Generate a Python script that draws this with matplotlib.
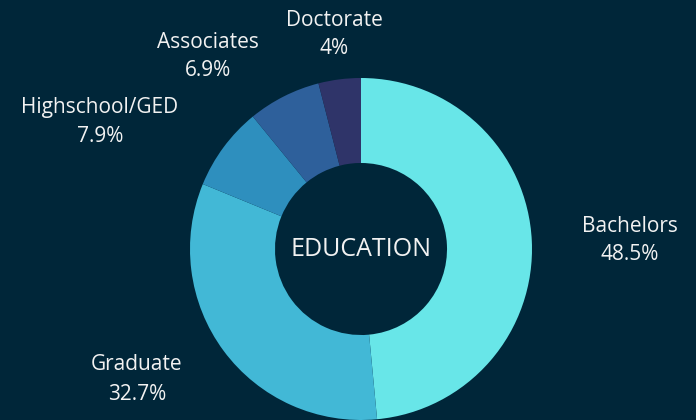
import matplotlib.pyplot as plt

# data
categories = ['Bachelors', 'Graduate', 'Highschool/GED', 'Associates', 'Doctorate']
shares = [48.5, 32.7, 7.9, 6.9, 4.0]
share_labels = ['48.5%', '32.7%', '7.9%', '6.9%', '4%']
colors = ['#68e6e8', '#42b8d6', '#2e8fbe', '#2e609b', '#2f3469']

bg = '#002639'
txt = '#f2f2f2'

fig = plt.figure(figsize=(6.96, 4.2), dpi=100, facecolor=bg)
ax = fig.add_axes([0, 0, 1, 1])
ax.set_facecolor(bg)

ax.pie(shares, colors=colors, startangle=90, counterclock=False, radius=1,
       wedgeprops=dict(width=0.497, linewidth=0))

# view: donut centre at pixel (361, 249), radius 171 px
R = 171.0
ax.set_xlim(-361 / R, (696 - 361) / R)
ax.set_ylim(-(420 - 249) / R, 249 / R)
ax.set_aspect('equal')
ax.axis('off')

# label anchors in pixels (x, y of the name line from top)
label_pos = [(630, 226), (137, 365), (100, 107), (208, 42), (334, 20)]
for name, pct, (px, py) in zip(categories, share_labels, label_pos):
    x = (px - 361) / R
    y = (249 - py) / R
    ax.text(x, y, name, ha='center', va='center', color=txt,
            fontsize=15, family='Open Sans', fontweight='medium')
    ax.text(x, y - 29 / R, pct, ha='center', va='center', color=txt,
            fontsize=15, family='Open Sans', fontweight='medium')

ax.text(0, 0, 'EDUCATION', ha='center', va='center', color=txt,
        fontsize=18, family='Open Sans', fontweight='medium')

fig.savefig('out.png', dpi=100, facecolor=bg)
